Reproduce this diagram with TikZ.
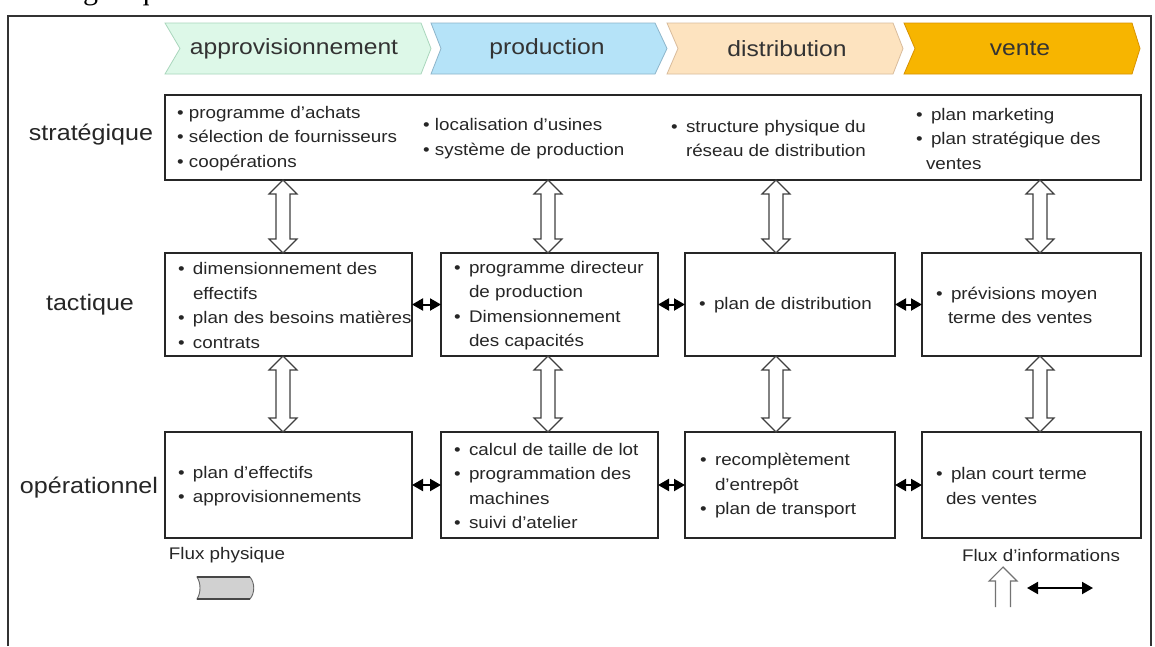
\documentclass[tikz,border=0pt]{standalone}
\usepackage{fontspec}
\setmainfont{Liberation Sans}[FakeStretch=1.12]
\newfontfamily\capserif{Liberation Serif}
\usetikzlibrary{arrows.meta,calc}

\definecolor{ink}{HTML}{262626}
\definecolor{apprfill}{HTML}{DDF8E8}
\definecolor{apprline}{HTML}{A9D6BC}
\definecolor{prodfill}{HTML}{B5E3F8}
\definecolor{prodline}{HTML}{8DB5CA}
\definecolor{distfill}{HTML}{FDE3BF}
\definecolor{distline}{HTML}{D9BC9C}
\definecolor{ventfill}{HTML}{F7B500}
\definecolor{ventline}{HTML}{D89200}

% bullet with hanging indent, and the matching indent for continued lines
\newcommand\itm[1][15pt]{\makebox[#1][l]{•}}
\newcommand\cnt[1][15pt]{\hspace*{#1}}

\begin{document}
\begin{tikzpicture}[x=1pt,y=-1pt,
  every node/.style={inner sep=0pt,outer sep=0pt,text=ink},
  cell/.style={draw=black!85,line width=1.3pt,anchor=north west,fill=white},
  body/.style={font=\fontsize{16.8}{24.5}\selectfont,align=left,anchor=west},
  level/.style={font=\fontsize{22.4}{26}\selectfont},
  chevtext/.style={font=\fontsize{22}{26}\selectfont,text=black!80},
  chev/.style={line width=0.8pt},
  hollow/.style={draw=black!75,fill=white,line width=1.2pt,line join=miter,
    to path={let \p1=(\tikztostart), \p2=(\tikztotarget) in
      (\x1,\y1) -- (\x1+14pt,\y1-14pt) -- (\x1+7pt,\y1-14pt)
      -- (\x1+7pt,\y2+14pt) -- (\x1+14pt,\y2+14pt) -- (\x1,\y2)
      -- (\x1-14pt,\y2+14pt) -- (\x1-7pt,\y2+14pt)
      -- (\x1-7pt,\y1-14pt) -- (\x1-14pt,\y1-14pt) -- cycle}},
  link/.style={{Triangle[length=11pt,width=12pt]}-{Triangle[length=11pt,width=12pt]},
    line width=2pt,draw=black},
]
\useasboundingbox (0,0) rectangle (1155,646);
\fill[white] (0,0) rectangle (1155,646);

% tail of the caption line above the frame
\node[anchor=base east,font=\capserif\fontsize{30}{30}\selectfont,text=black] (captail)
  at (178,-1) {chaîne logistique};

% outer frame
\draw[black!80,line width=1.3pt] (8,646) -- (8,16) -- (1151,16) -- (1151,646);

% process chevrons
\filldraw[chev,fill=apprfill,draw=apprline] (165,23) -- (421,23) -- (431,48.5) -- (421,74) -- (165,74) -- (180,48.5) -- cycle;
\node[chevtext] (hA) at (294,48.5) {approvisionnement};
\filldraw[chev,fill=prodfill,draw=prodline] (431,23) -- (655,23) -- (667,48.5) -- (655,74) -- (431,74) -- (441,48.5) -- cycle;
\node[chevtext] (hP) at (547,48.5) {production};
\filldraw[chev,fill=distfill,draw=distline] (667,23) -- (893,23) -- (903,48.5) -- (893,74) -- (667,74) -- (678,48.5) -- cycle;
\node[chevtext] (hD) at (787,48.5) {distribution};
\filldraw[chev,fill=ventfill,draw=ventline] (904,23) -- (1132,23) -- (1140,48.5) -- (1132,74) -- (904,74) -- (915,48.5) -- cycle;
\node[chevtext] (hV) at (1020,48.5) {vente};

% planning levels
\node[level] (lvS) at (91,135) {stratégique};
\node[level] (lvT) at (90,305) {tactique};
\node[level] (lvO) at (89,488) {opérationnel};

% strategic level
\node[cell,minimum width=976,minimum height=85] (strat) at (165,95) {};
\node[body] (s1t) at (177,138.5) {\itm[12pt]programme d’achats\\\itm[12pt]sélection de fournisseurs\\\itm[12pt]coopérations};
\node[body] (s2t) at (423,138.5) {\itm[12pt]localisation d’usines\\\itm[12pt]système de production};
\node[body] (s3t) at (671,138.5) {\itm structure physique du\\\cnt réseau de distribution};
\node[body] (s4t) at (916,138.5) {\itm plan marketing\\\itm plan stratégique des\\\cnt[10pt]ventes};

% tactical level
\node[cell,minimum width=247,minimum height=103] (t1) at (165,253) {};
\node[cell,minimum width=217,minimum height=103] (t2) at (441,253) {};
\node[cell,minimum width=210,minimum height=103] (t3) at (685,253) {};
\node[cell,minimum width=219,minimum height=103] (t4) at (922,253) {};
\node[body] (t1t) at ([xshift=13pt,yshift=-1pt]t1.west) {\itm dimensionnement des\\\cnt effectifs\\\itm plan des besoins matières\\\itm contrats};
\node[body] (t2t) at ([xshift=13pt,yshift=-1pt]t2.west) {\itm programme directeur\\\cnt de production\\\itm Dimensionnement\\\cnt des capacités};
\node[body] (t3t) at ([xshift=14pt,yshift=-1pt]t3.west) {\itm plan de distribution};
\node[body] (t4t) at ([xshift=14pt,yshift=-1pt]t4.west) {\itm prévisions moyen\\\cnt[12pt]terme des ventes};

% operational level
\node[cell,minimum width=247,minimum height=106] (o1) at (165,432) {};
\node[cell,minimum width=217,minimum height=106] (o2) at (441,432) {};
\node[cell,minimum width=210,minimum height=106] (o3) at (685,432) {};
\node[cell,minimum width=219,minimum height=106] (o4) at (922,432) {};
\node[body] (o1t) at ([xshift=13pt,yshift=-1pt]o1.west) {\itm plan d’effectifs\\\itm approvisionnements};
\node[body] (o2t) at ([xshift=13pt,yshift=-1pt]o2.west) {\itm calcul de taille de lot\\\itm programmation des\\\cnt machines\\\itm suivi d’atelier};
\node[body] (o3t) at ([xshift=15pt,yshift=-1pt]o3.west) {\itm recomplètement\\\cnt d’entrepôt\\\itm plan de transport};
\node[body] (o4t) at ([xshift=14pt,yshift=-1pt]o4.west) {\itm plan court terme\\\cnt[10pt]des ventes};

% information flows between levels
\coordinate (c1) at (283,0);
\coordinate (c2) at (548,0);
\coordinate (c3) at (776,0);
\coordinate (c4) at (1040,0);
\draw[hollow] (strat.south -| c1) to (t1.north -| c1);
\draw[hollow] (strat.south -| c2) to (t2.north -| c2);
\draw[hollow] (strat.south -| c3) to (t3.north -| c3);
\draw[hollow] (strat.south -| c4) to (t4.north -| c4);
\draw[hollow] (t1.south -| c1) to (o1.north -| c1);
\draw[hollow] (t2.south -| c2) to (o2.north -| c2);
\draw[hollow] (t3.south -| c3) to (o3.north -| c3);
\draw[hollow] (t4.south -| c4) to (o4.north -| c4);

% information flows along the chain
\draw[link] (t1.east) -- (t2.west);
\draw[link] (t2.east) -- (t3.west);
\draw[link] (t3.east) -- (t4.west);
\draw[link] (o1.east) -- (o2.west);
\draw[link] (o2.east) -- (o3.west);
\draw[link] (o3.east) -- (o4.west);

% legend: physical flow
\node[font=\fontsize{16.8}{20}\selectfont] (lgP) at (227,555) {Flux physique};
\filldraw[fill=black!18,draw=black!60,line width=0.9pt]
  (197,577) -- (250,577) .. controls (255,583) and (255,593) .. (250,599)
  -- (197,599) .. controls (201,593) and (201,583) .. (197,577) -- cycle;
\draw[black!72,line width=1.8pt] (197,577) -- (250,577) (197,599) -- (250,599);

% legend: information flows
\node[font=\fontsize{16.8}{20}\selectfont] (lgI) at (1041,555) {Flux d’informations};
\coordinate (uptop) at (1003,567);
\coordinate (upbot) at (1003,607);
\draw[draw=black!55,line width=1.1pt,line join=miter]
  let \p1=(uptop), \p2=(upbot) in
  (\x1-7.5pt,\y2) -- (\x1-7.5pt,\y1-14pt) -- (\x1-14pt,\y1-14pt) -- (\x1,\y1)
  -- (\x1+14pt,\y1-14pt) -- (\x1+7.5pt,\y1-14pt) -- (\x1+7.5pt,\y2);
\coordinate (la) at (1027,588);
\coordinate (lb) at (1093,588);
\draw[link] (la) -- (lb);
\end{tikzpicture}
\end{document}
